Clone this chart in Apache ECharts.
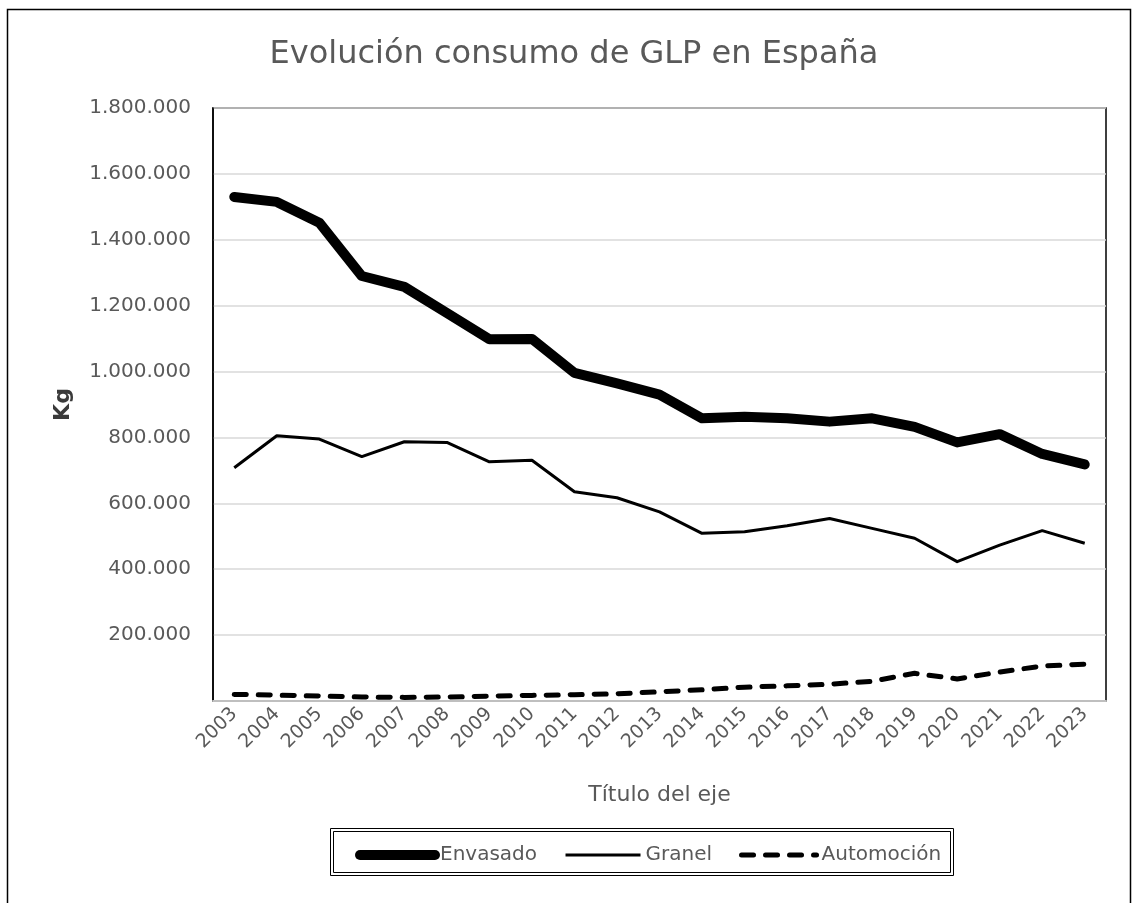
<!DOCTYPE html>
<html>
<head>
<meta charset="utf-8">
<script src="https://cdn.jsdelivr.net/npm/echarts@6/dist/echarts.min.js"></script>
<style>
html,body{margin:0;padding:0;background:#fff;}
#chart{width:1134px;height:903px;}
</style>
</head>
<body>
<div id="chart"></div>
<script>
const years = ['2003','2004','2005','2006','2007','2008','2009','2010','2011','2012','2013','2014','2015','2016','2017','2018','2019','2020','2021','2022','2023'];
const envasado = [1530000,1515000,1452000,1290000,1257000,1178000,1098000,1099000,996000,964000,930000,858000,863000,858000,848000,858000,832000,785000,810000,750000,718000];
const granel = [708000,805000,795000,742000,787000,785000,726000,731000,635000,617000,574000,509000,514000,532000,554000,524000,494000,423000,473000,517000,479000];
const automocion = [20000,18000,15000,12000,11000,12000,15000,17000,19000,22000,28000,34000,42000,46000,51000,60000,84000,67000,88000,106000,112000];
const yMin = 0, yMax = 1800000, yStep = 200000;

function fmt(v){
  if (v === 0) return '';
  return String(v).replace(/\B(?=(\d{3})+(?!\d))/g, '.');
}

const FONT = '"DejaVu Sans", sans-serif';
const chart = echarts.init(document.getElementById('chart'), null, {renderer:'canvas'});
chart.setOption({
  animation:false,
  backgroundColor:'#fff',
  title:{
    text:'Evolución consumo de GLP en España',
    left:569, top:34, textAlign:'center',
    textStyle:{fontFamily:FONT, fontSize:32, fontWeight:'normal', color:'#595959'}
  },
  grid:{left:213, right:28, top:108, bottom:202, show:true, borderColor:'#000', borderWidth:1.5, backgroundColor:'transparent'},
  legend:{
    left:355, top:845, itemWidth:75, itemHeight:14, itemGap:27, padding:0,
    textStyle:{fontFamily:FONT, fontSize:20, color:'#595959'},
    itemStyle:{opacity:0},
    data:[
      {name:'Envasado', lineStyle:{width:10, cap:'round'}, itemStyle:{opacity:0}},
      {name:'Granel', lineStyle:{width:3}, itemStyle:{opacity:0}},
      {name:'Automoción', lineStyle:{width:5, type:[12,12], cap:'round'}, itemStyle:{opacity:0}}
    ]
  },
  xAxis:{
    type:'category', data:years, boundaryGap:true,
    name:'Título del eje', nameLocation:'middle', nameGap:83,
    nameTextStyle:{fontFamily:FONT, fontSize:22, color:'#595959'},
    axisLine:{show:true, lineStyle:{color:'#bfbfbf', width:2}},
    axisTick:{show:false},
    axisLabel:{rotate:45, interval:0, margin:10, fontFamily:FONT, fontSize:19, color:'#595959'},
    splitLine:{show:false}
  },
  yAxis:{
    type:'value', min:yMin, max:yMax, interval:yStep,
    name:'Kg', nameLocation:'middle', nameGap:139, nameRotate:90,
    nameTextStyle:{fontFamily:FONT, fontSize:22, fontWeight:'bold', color:'#3a3a3a'},
    axisLine:{show:true, lineStyle:{color:'#000', width:1.5}},
    axisTick:{show:false},
    axisLabel:{formatter:fmt, margin:22, fontFamily:FONT, fontSize:20, color:'#595959'},
    splitLine:{show:true, lineStyle:{color:'#d9d9d9', width:1.5}}
  },
  series:[
    {name:'Envasado', type:'line', data:envasado, symbol:'none', z:5,
     lineStyle:{color:'#000', width:10, cap:'round', join:'round'}, itemStyle:{color:'#000'}},
    {name:'Granel', type:'line', data:granel, symbol:'none', z:4,
     lineStyle:{color:'#000', width:3, join:'round'}, itemStyle:{color:'#000'}},
    {name:'Automoción', type:'line', data:automocion, symbol:'none', z:3,
     lineStyle:{color:'#000', width:5, type:[12,12], cap:'round', join:'round'}, itemStyle:{color:'#000'}}
  ],
  graphic:[
    {type:'rect', silent:true, shape:{x:7.5, y:9.5, width:1123, height:900}, style:{fill:'none', stroke:'#000', lineWidth:1.5}},
    {type:'rect', silent:true, shape:{x:330.5, y:828.5, width:623, height:47}, style:{fill:'none', stroke:'#000', lineWidth:1}},
    {type:'rect', silent:true, shape:{x:333.5, y:831.5, width:617, height:41}, style:{fill:'none', stroke:'#000', lineWidth:1}}
  ]
});
</script>
</body>
</html>
